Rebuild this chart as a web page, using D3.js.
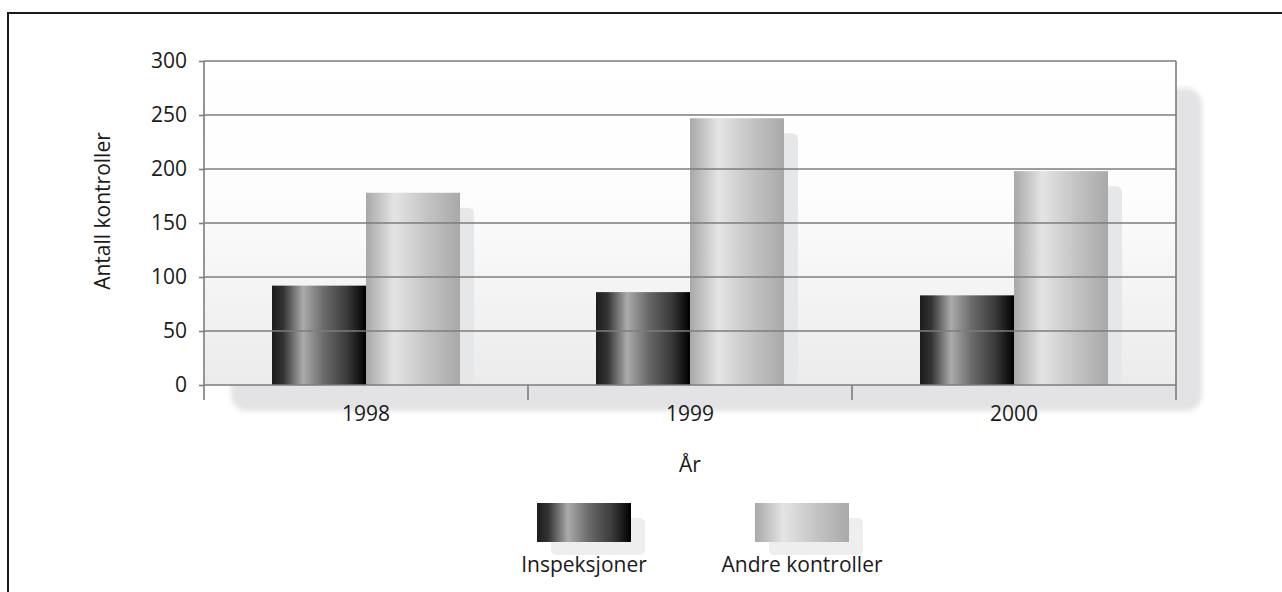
<!DOCTYPE html>
<html>
<head>
<meta charset="utf-8">
<script src="https://cdn.jsdelivr.net/npm/d3@7"></script>
<style>
  body { margin: 0; background: #fff; }
  svg text { font-family: "Open Sans", "Noto Sans", sans-serif; fill: #1a1a1a; }
</style>
</head>
<body>
<div id="viz"></div>
<script>
// data
var years = ["1998", "1999", "2000"];
var seriesNames = ["Inspeksjoner", "Andre kontroller"];
var inspeksjoner = [92, 86, 83];
var andreKontroller = [178, 247, 198];
var yTicks = [0, 50, 100, 150, 200, 250, 300];

var rows = years.map(function (y, i) {
  return { year: y, values: [inspeksjoner[i], andreKontroller[i]] };
});

var W = 1282, H = 592;
var margin = { top: 61, left: 204, right: 106, bottom: 207 };
var width = W - margin.left - margin.right,
  height = H - margin.top - margin.bottom;
var fontSize = "21px";

var svg = d3.select("#viz").append("svg")
  .attr("width", W)
  .attr("height", H);

var defs = svg.append("defs");

// gradients for bars
var g1 = defs.append("linearGradient").attr("id", "gradDark");
[[0, "#1c1c1c"], [0.12, "#333"], [0.33, "#ababab"], [0.55, "#6a6a6a"], [0.8, "#3a3a3a"], [1, "#000"]]
  .forEach(function (s) { g1.append("stop").attr("offset", s[0]).attr("stop-color", s[1]); });
var g2 = defs.append("linearGradient").attr("id", "gradLight");
[[0, "#a8a8a8"], [0.3, "#e4e4e4"], [0.65, "#c4c4c4"], [1, "#a9a9a9"]]
  .forEach(function (s) { g2.append("stop").attr("offset", s[0]).attr("stop-color", s[1]); });
var gbg = defs.append("linearGradient").attr("id", "gradBg")
  .attr("x1", 0).attr("x2", 0).attr("y1", 0).attr("y2", 1);
[[0, "#ffffff"], [0.4, "#fdfdfd"], [1, "#ebebeb"]]
  .forEach(function (s) { gbg.append("stop").attr("offset", s[0]).attr("stop-color", s[1]); });
defs.append("filter").attr("id", "blur")
  .attr("x", "-5%").attr("y", "-5%").attr("width", "110%").attr("height", "110%")
  .append("feGaussianBlur").attr("stdDeviation", 2.5);

var fills = ["url(#gradDark)", "url(#gradLight)"];

// outer frame
svg.append("rect")
  .attr("x", 8).attr("y", 13)
  .attr("width", W + 20).attr("height", H + 20)
  .attr("fill", "none")
  .attr("stroke", "#1a1a1a")
  .attr("stroke-width", 2);

var chart = svg.append("g")
  .attr("transform", "translate(" + margin.left + "," + margin.top + ")");

var x0 = d3.scaleBand().domain(years).range([0, width]);
var x1 = d3.scaleBand().domain([0, 1]).range([68, x0.bandwidth() - 68]);
var y = d3.scaleLinear().domain([0, 300]).range([height, 0]);

// plot shadow
chart.append("rect")
  .attr("x", 27).attr("y", 27)
  .attr("width", width - 1).attr("height", height - 1)
  .attr("rx", 16)
  .attr("fill", "#e3e3e5")
  .attr("filter", "url(#blur)");

// plot background
chart.append("rect")
  .attr("width", width).attr("height", height)
  .attr("fill", "url(#gradBg)");

var groups = chart.selectAll(".grp")
  .data(rows)
  .enter().append("g")
  .attr("class", "grp")
  .attr("transform", function (d) { return "translate(" + x0(d.year) + ",0)"; });

// bar shadows
groups.selectAll(".shadow")
  .data(function (d) { return d.values; })
  .enter().append("rect")
  .attr("class", "shadow")
  .attr("x", function (d, i) { return x1(i) + 14; })
  .attr("y", function (d) { return y(d) + 15; })
  .attr("width", x1.bandwidth())
  .attr("height", function (d) { return height - y(d) - 15; })
  .attr("rx", 6)
  .attr("fill", "#e6e7e9");

// gridlines
chart.append("g")
  .selectAll("line")
  .data(yTicks)
  .enter().append("line")
  .attr("x1", 0).attr("x2", width)
  .attr("y1", function (d) { return y(d); })
  .attr("y2", function (d) { return y(d); })
  .attr("stroke", "#7c7c7c")
  .attr("stroke-width", 1.6);

// bars
groups.selectAll(".bar")
  .data(function (d) { return d.values; })
  .enter().append("rect")
  .attr("class", "bar")
  .attr("x", function (d, i) { return x1(i); })
  .attr("y", function (d) { return y(d); })
  .attr("width", x1.bandwidth())
  .attr("height", function (d) { return height - y(d); })
  .attr("fill", function (d, i) { return fills[i]; });

// axes
var yAxis = chart.append("g")
  .call(d3.axisLeft(y).tickValues(yTicks).tickSize(5).tickPadding(12));
yAxis.select(".domain").remove();
yAxis.selectAll("line").attr("stroke", "#7c7c7c").attr("stroke-width", 1.6);
yAxis.selectAll("text").style("font-size", fontSize).attr("fill", "#1a1a1a");

chart.append("line")
  .attr("x1", 0).attr("x2", 0).attr("y1", 0).attr("y2", height + 15)
  .attr("stroke", "#7c7c7c").attr("stroke-width", 1.6);
chart.append("line")
  .attr("x1", width).attr("x2", width).attr("y1", 0).attr("y2", height + 15)
  .attr("stroke", "#7c7c7c").attr("stroke-width", 1.6);

var xAxis = chart.append("g")
  .attr("transform", "translate(0," + height + ")")
  .call(d3.axisBottom(x0).tickSize(0).tickPadding(21));
xAxis.select(".domain").remove();
xAxis.selectAll("text").style("font-size", fontSize).attr("fill", "#1a1a1a");
chart.append("g")
  .selectAll("line")
  .data(years.slice(1))
  .enter().append("line")
  .attr("x1", function (d) { return x0(d); })
  .attr("x2", function (d) { return x0(d); })
  .attr("y1", height).attr("y2", height + 15)
  .attr("stroke", "#7c7c7c").attr("stroke-width", 1.6);

// axis titles
chart.append("text")
  .attr("x", width / 2)
  .attr("y", height + 87)
  .attr("text-anchor", "middle")
  .style("font-size", fontSize)
  .text("År");

chart.append("text")
  .attr("transform", "rotate(-90)")
  .attr("x", -150)
  .attr("y", -94)
  .attr("text-anchor", "middle")
  .style("font-size", fontSize)
  .text("Antall kontroller");

// legend
var legendX = [537, 755];
var legend = svg.selectAll(".legend")
  .data(seriesNames)
  .enter().append("g")
  .attr("class", "legend")
  .attr("transform", function (d, i) { return "translate(" + legendX[i] + ",503)"; });

legend.append("rect")
  .attr("x", 14).attr("y", 15)
  .attr("width", 94).attr("height", 37)
  .attr("rx", 5)
  .attr("fill", "#eeeeee");
legend.append("rect")
  .attr("width", 94).attr("height", 39)
  .attr("fill", function (d, i) { return fills[i]; });
legend.append("text")
  .attr("x", 47)
  .attr("y", 69)
  .attr("text-anchor", "middle")
  .style("font-size", fontSize)
  .text(function (d) { return d; });
</script>
</body>
</html>
